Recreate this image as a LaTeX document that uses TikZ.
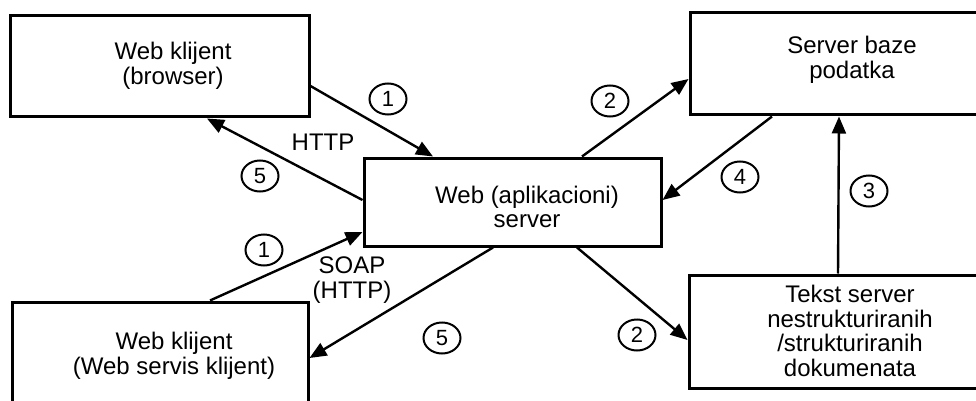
\documentclass[tikz,border=0pt]{standalone}
\usepackage{fontspec}
\setmainfont{Liberation Sans}
\usetikzlibrary{arrows.meta,shapes.geometric}

\begin{document}
\begin{tikzpicture}[x=1pt, y=-1pt, >={Triangle[length=17pt,width=14pt]},
	box/.style={draw, rectangle, line width=3pt, inner sep=0pt},
	txt/.style={align=center, inner sep=0pt, font=\fontsize{24}{24.5}\selectfont},
	num/.style={draw, ellipse, line width=2pt, inner sep=0pt, minimum width=37pt, minimum height=31pt, font=\fontsize{22}{22}\selectfont},
	conn/.style={line width=2.4pt}]
	\useasboundingbox (0,0) rectangle (976,401);
	\clip (0,0) rectangle (976,401);
	\node [box, minimum width=299pt, minimum height=101pt] (WK) at (159.5, 66.5) {};
	\node [box, minimum width=300pt, minimum height=102pt] (DB) at (840, 64) {};
	\node [box, minimum width=297pt, minimum height=88pt] (WS) at (512.5, 202) {};
	\node [box, minimum width=296pt, minimum height=102pt] (WC) at (160, 353) {};
	\node [box, minimum width=300pt, minimum height=113pt] (TS) at (839, 331.5) {};
	\node [txt] (tWK) at (173, 66) {Web klijent\\(browser)};
	\node [txt] (tDB) at (852, 60) {Server baze\\podatka};
	\node [txt] (tWS) at (527, 207) {Web (aplikacioni)\\server};
	\node [txt] (tWC) at (174, 356) {Web klijent\\(Web servis klijent)};
	\node [txt] (tTS) at (850, 331) {Tekst server\\nestrukturiranih\\/strukturiranih\\dokumenata};
	\node [txt] (HT) at (323, 142) {HTTP};
	\node [txt] (SP) at (352, 280) {SOAP\\(HTTP)};
	\draw [conn, ->] ([yshift=-19.5pt]WK.east) -- ([xshift=-79.5pt]WS.north);
	\draw [conn, ->] ([yshift=2pt]WS.west) -- ([xshift=47.5pt]WK.south);
	\draw [conn, ->] ([xshift=69.5pt]WS.north) -- ([yshift=-15pt]DB.west);
	\draw [conn, ->] ([xshift=-68pt]DB.south) -- ([yshift=2pt]WS.east);
	\draw [conn, ->] ([xshift=-1pt]TS.north) -- ([xshift=-1pt]DB.south);
	\draw [conn, ->] ([xshift=50pt]WC.north) -- ([yshift=-30pt]WS.west);
	\draw [conn, ->] ([xshift=-19.5pt]WS.south) -- ([yshift=-5pt]WC.east);
	\draw [conn, ->] ([xshift=64.5pt]WS.south) -- ([yshift=-8.5pt]TS.west);
	\node [num] (N1) at (388, 99) {1};
	\node [num] (N5) at (260, 176) {5};
	\node [num] (N2) at (610, 101) {2};
	\node [num] (N4) at (740, 177) {4};
	\node [num] (N3) at (869, 191) {3};
	\node [num] (N1b) at (264, 250) {1};
	\node [num] (N5b) at (442, 338) {5};
	\node [num] (N2b) at (637, 335) {2};
\end{tikzpicture}
\end{document}
